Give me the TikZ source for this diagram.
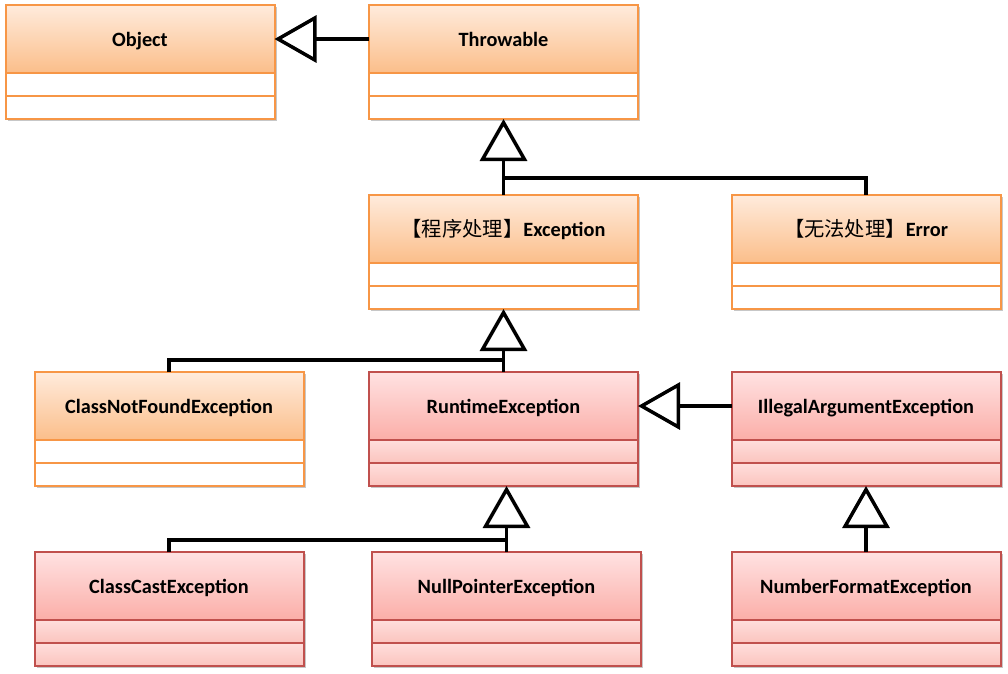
\documentclass[tikz,border=0pt]{standalone}
\usepackage{fontspec}
\setmainfont{Carlito}
\newfontfamily\cjk{Noto Sans CJK SC}
\usetikzlibrary{arrows.meta,shadows}
\definecolor{orgline}{HTML}{F79646}
\definecolor{orgtop}{HTML}{FFEBDC}
\definecolor{orgbot}{HTML}{FBBE8A}
\definecolor{redline}{HTML}{C0504D}
\definecolor{redtop}{HTML}{FFE2E2}
\definecolor{redbot}{HTML}{FBAEA8}
\definecolor{rowtop}{HTML}{FFDEDC}
\definecolor{rowbot}{HTML}{FBC4BE}
% #1 name, #2 position, #3 text, #4 colour (org/red)
\newcommand{\umlclass}[4]{%
	\node[head,#4head] (#1) at (#2) {#3};
	\node[row,#4row,anchor=north] (#1-a) at (#1.south) {};
	\node[row,#4row,anchor=north] (#1-b) at (#1-a.south) {};
}
\begin{document}
\begin{tikzpicture}[x=1pt,y=-1pt,
	shd/.style={drop shadow={shadow xshift=2pt,shadow yshift=-2pt,fill=black,opacity=.22}},
	head/.style={draw,shd,line width=2pt,minimum width=269pt,minimum height=68pt,inner sep=0pt,outer sep=0pt,text height=15pt,text depth=0pt,font=\fontsize{20.3}{24}\selectfont\bfseries},
	orghead/.style={draw=orgline,top color=orgtop,bottom color=orgbot},
	redhead/.style={draw=redline,top color=redtop,bottom color=redbot},
	row/.style={draw,shd,line width=2pt,minimum width=269pt,minimum height=23pt,inner sep=0pt,outer sep=0pt},
	orgrow/.style={draw=orgline,fill=white},
	redrow/.style={draw=redline,top color=rowtop,bottom color=rowbot},
	gen/.style={line width=3.5pt},
	ext/.style={gen,-{Triangle[open,length=42pt,width=47pt]}}]
	\useasboundingbox (0,0) rectangle (1008,673);
	% classes
	\umlclass{object}{140,39}{Object}{org}
	\umlclass{throw}{503.5,39}{Throwable}{org}
	\umlclass{exc}{503.5,229}{{\cjk\mdseries 【程序处理】}Exception}{org}
	\umlclass{err}{866,229}{{\cjk\mdseries 【无法处理】}Error}{org}
	\umlclass{cnf}{169,406}{ClassNotFoundException}{org}
	\umlclass{rte}{503.5,406}{RuntimeException}{red}
	\umlclass{iae}{866,406}{IllegalArgumentException}{red}
	\umlclass{cce}{169,586}{ClassCastException}{red}
	\umlclass{npe}{506.5,586}{NullPointerException}{red}
	\umlclass{nfe}{866,586}{NumberFormatException}{red}
	% inheritance
	\draw[ext] (throw.west) -- (object.east);
	\draw[ext] (exc.north) -- (throw-b.south);
	\draw[gen] (err.north) -- ++(0,-17) -| (exc.north);
	\draw[ext] (rte.north) -- (exc-b.south);
	\draw[gen] (cnf.north) -- ++(0,-12) -| (rte.north);
	\draw[ext] (iae.west) -- (rte.east);
	\draw[ext] (npe.north) -- (npe.north |- rte-b.south);
	\draw[gen] (cce.north) -- ++(0,-12) -| (npe.north);
	\draw[ext] (nfe.north) -- (iae-b.south);
\end{tikzpicture}
\end{document}
